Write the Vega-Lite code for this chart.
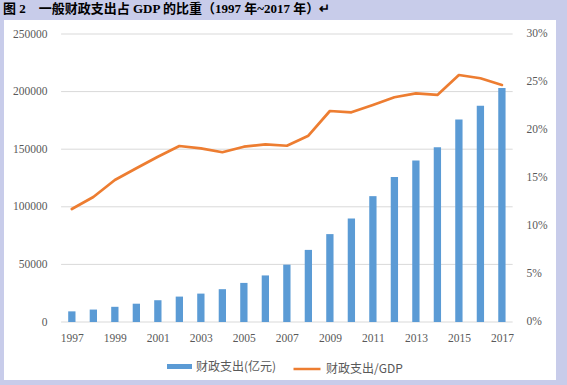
{
  "$schema": "https://vega.github.io/schema/vega-lite/v6.json",
  "width": 552,
  "height": 360,
  "autosize": {"type": "none"},
  "padding": {"left": 4, "top": 20, "right": 11, "bottom": 5},
  "background": "#C8CCEA",
  "title": {
    "text": "图 2　一般财政支出占 GDP 的比重（1997 年~2017 年）↵",
    "anchor": "start",
    "frame": "group",
    "font": "Liberation Serif, Noto Sans CJK SC",
    "fontSize": 13,
    "fontWeight": "bold",
    "color": "#000000",
    "offset": 4,
    "dx": -1
  },
  "config": {
    "view": {"fill": "#FFFFFF", "stroke": null},
    "axis": {
      "labelFont": "Liberation Serif",
      "labelFontSize": 11.5,
      "labelColor": "#595959",
      "ticks": false,
      "domain": false,
      "grid": false,
      "title": null
    }
  },
  "datasets": {
    "main": [
      {"year": 1997, "spending": 9233.56, "ratio": 0.1177},
      {"year": 1998, "spending": 10798.18, "ratio": 0.1302},
      {"year": 1999, "spending": 13187.67, "ratio": 0.1479},
      {"year": 2000, "spending": 15886.5, "ratio": 0.1601},
      {"year": 2001, "spending": 18902.58, "ratio": 0.1722},
      {"year": 2002, "spending": 22053.15, "ratio": 0.1833},
      {"year": 2003, "spending": 24649.95, "ratio": 0.1809},
      {"year": 2004, "spending": 28486.89, "ratio": 0.1768},
      {"year": 2005, "spending": 33930.28, "ratio": 0.1826},
      {"year": 2006, "spending": 40422.73, "ratio": 0.1851},
      {"year": 2007, "spending": 49781.35, "ratio": 0.1836},
      {"year": 2008, "spending": 62592.66, "ratio": 0.1941},
      {"year": 2009, "spending": 76299.93, "ratio": 0.2198},
      {"year": 2010, "spending": 89874.16, "ratio": 0.2184},
      {"year": 2011, "spending": 109247.79, "ratio": 0.226},
      {"year": 2012, "spending": 125952.97, "ratio": 0.2341},
      {"year": 2013, "spending": 140212.1, "ratio": 0.2382},
      {"year": 2014, "spending": 151785.56, "ratio": 0.2365},
      {"year": 2015, "spending": 175877.77, "ratio": 0.2573},
      {"year": 2016, "spending": 187755.21, "ratio": 0.2539},
      {"year": 2017, "spending": 203085.49, "ratio": 0.2469}
    ],
    "grid": [
      {"v": 0}, {"v": 50000}, {"v": 100000}, {"v": 150000}, {"v": 200000}, {"v": 250000}
    ]
  },
  "data": {"name": "main"},
  "layer": [
    {
      "layer": [
        {
          "data": {"name": "grid"},
          "mark": {"type": "rule", "color": "#D9D9D9", "strokeWidth": 1},
          "encoding": {
            "y": {
              "field": "v", "type": "quantitative",
              "scale": {"domain": [-50347.2, 262152.8], "nice": false, "zero": false},
              "axis": {"values": [0, 50000, 100000, 150000, 200000, 250000], "format": "d", "offset": -46, "labelPadding": 3}
            },
            "x": {
              "datum": 1996.5, "type": "quantitative",
              "scale": {"domain": [1994.0776, 2019.2831], "nice": false, "zero": false},
              "axis": {"values": [1997, 1999, 2001, 2003, 2005, 2007, 2009, 2011, 2013, 2015, 2017], "format": "d", "offset": -58, "labelPadding": 10}
            },
            "x2": {"datum": 2017.5}
          }
        },
        {
          "mark": {"type": "bar", "size": 7.3},
          "encoding": {
            "x": {
              "field": "year", "type": "quantitative",
              "scale": {"domain": [1994.0776, 2019.2831], "nice": false, "zero": false},
              "axis": {"values": [1997, 1999, 2001, 2003, 2005, 2007, 2009, 2011, 2013, 2015, 2017], "format": "d", "offset": -58, "labelPadding": 10}
            },
            "y": {
              "field": "spending", "type": "quantitative",
              "scale": {"domain": [-50347.2, 262152.8], "nice": false, "zero": false},
              "axis": {"values": [0, 50000, 100000, 150000, 200000, 250000], "format": "d", "offset": -46, "labelPadding": 3}
            },
            "fill": {
              "datum": "财政支出(亿元)", "type": "nominal",
              "scale": {"range": ["#5B9BD5"]},
              "legend": {
                "orient": "none", "legendX": 163, "legendY": 334, "title": null,
                "symbolType": "M-1,-0.2H1V0.2H-1Z", "symbolSize": 625, "symbolStrokeWidth": 0,
                "labelFont": "Noto Sans CJK SC", "labelFontSize": 12, "labelColor": "#595959"
              }
            }
          }
        }
      ]
    },
    {
      "mark": {"type": "line", "strokeWidth": 2.7, "strokeJoin": "round", "strokeCap": "round"},
      "encoding": {
        "x": {
          "field": "year", "type": "quantitative",
          "scale": {"domain": [1994.0776, 2019.2831], "nice": false, "zero": false},
          "axis": {"values": [1997, 1999, 2001, 2003, 2005, 2007, 2009, 2011, 2013, 2015, 2017], "format": "d", "offset": -58, "labelPadding": 10}
        },
        "y": {
          "field": "ratio", "type": "quantitative",
          "scale": {"domain": [-0.0604167, 0.314583], "nice": false, "zero": false},
          "axis": {"orient": "right", "values": [0, 0.05, 0.1, 0.15, 0.2, 0.25, 0.3], "format": ".0%", "offset": -34, "labelPadding": 4}
        },
        "stroke": {
          "datum": "财政支出/GDP", "type": "nominal",
          "scale": {"range": ["#ED7D31"]},
          "legend": {
            "orient": "none", "legendX": 288, "legendY": 334, "title": null,
            "symbolType": "stroke", "symbolSize": 729, "symbolStrokeWidth": 2.5,
            "labelFont": "Noto Sans CJK SC", "labelFontSize": 12, "labelColor": "#595959"
          }
        }
      }
    }
  ],
  "resolve": {"scale": {"y": "independent"}}
}
